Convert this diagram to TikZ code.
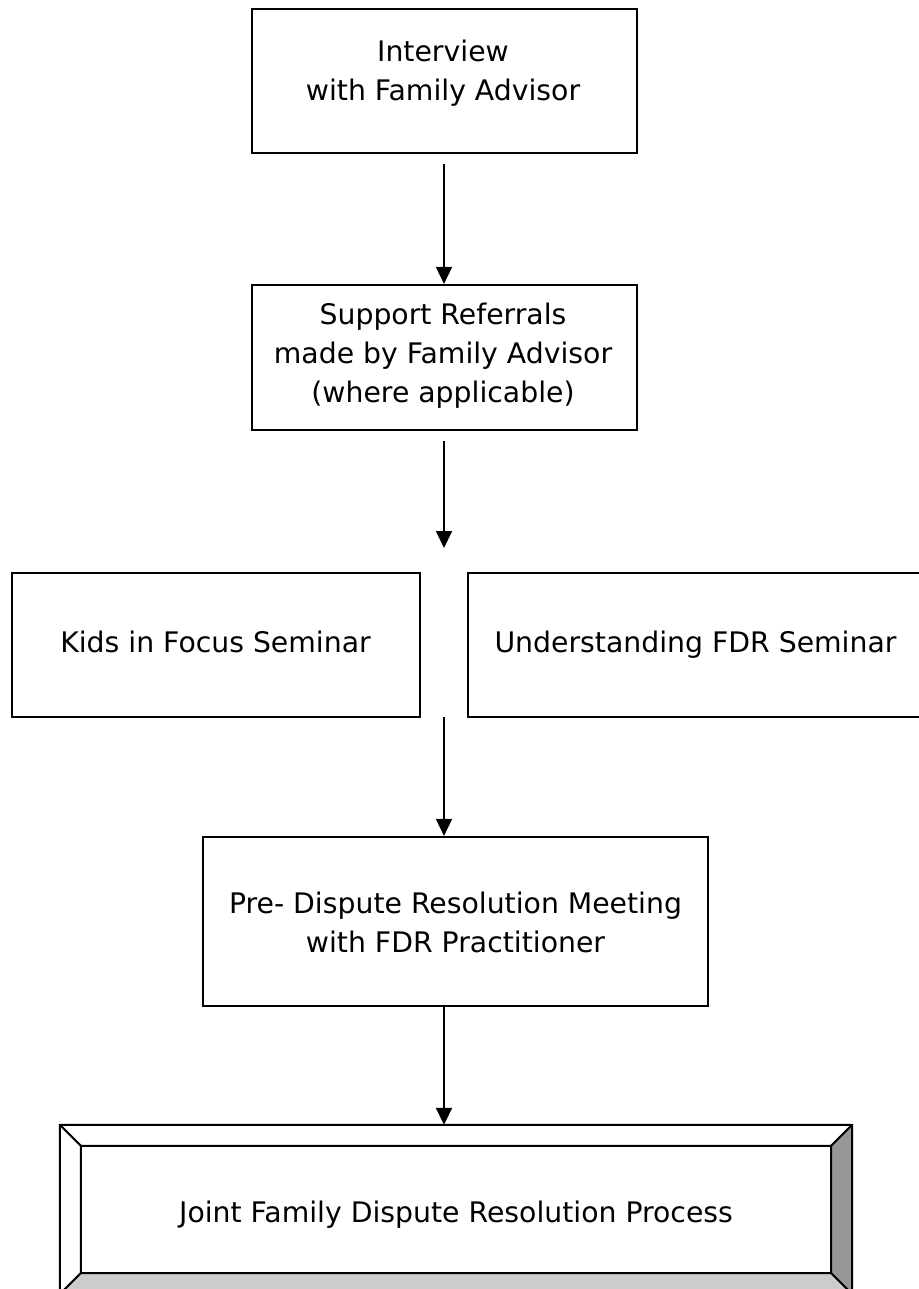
\documentclass[tikz,border=0pt]{standalone}
\usepackage{fontspec}
\setmainfont{DejaVu Sans}
\usetikzlibrary{arrows.meta,calc}
\newcommand{\tlstrut}{\rule[-11pt]{0pt}{39pt}}
\definecolor{bevdark}{HTML}{969696}
\definecolor{bevlight}{HTML}{CCCCCC}
\begin{document}
\begin{tikzpicture}[x=1pt,y=-1pt,
  box/.style={draw=black,line width=2.2pt,rectangle,inner sep=0pt},
  txt/.style={anchor=north,inner sep=0pt,align=center,font=\fontsize{28.3pt}{39pt}\selectfont},
  conn/.style={line width=1.8pt,-{Triangle[length=17pt,width=16pt]}},
  face/.style={draw=black,line width=2pt,line join=round}]
\useasboundingbox (0,0) rectangle (918,1289);
% boxes
\node[box,minimum width=385pt,minimum height=144pt] (b1) at (444.5,81) {};
\node[box,minimum width=385pt,minimum height=145pt] (b2) at (444.5,357.5) {};
\node[box,minimum width=408pt,minimum height=144pt] (kids) at (216,645) {};
\node[box,minimum width=455pt,minimum height=144pt] (under) at (695.5,645) {};
\node[box,minimum width=505pt,minimum height=169pt] (b4) at (455.5,921.5) {};
% bevel box
\node[inner sep=0pt,minimum width=792pt,minimum height=169pt] (joint) at (456,1209.5) {};
\coordinate (jiNW) at ($(joint.north west)+(21,21)$);
\coordinate (jiNE) at ($(joint.north east)+(-21,21)$);
\coordinate (jiSW) at ($(joint.south west)+(21,-21)$);
\coordinate (jiSE) at ($(joint.south east)+(-21,-21)$);
\path[face,fill=white] (joint.north west) -- (joint.north east) -- (jiNE) -- (jiNW) -- cycle;
\path[face,fill=white] (joint.north west) -- (jiNW) -- (jiSW) -- (joint.south west) -- cycle;
\path[face,fill=bevdark] (joint.north east) -- (joint.south east) -- (jiSE) -- (jiNE) -- cycle;
\path[face,fill=bevlight] (joint.south west) -- (jiSW) -- (jiSE) -- (joint.south east) -- cycle;
\draw[line width=2.2pt] (jiNW) rectangle (jiSE);
\draw[line width=2.2pt] (joint.north west) rectangle (joint.south east);
% texts
\node[txt] (t1) at (443,33) {\tlstrut Interview\\\tlstrut with Family Advisor};
\node[txt] (t2) at (443,296) {\tlstrut Support Referrals\\\tlstrut made by Family Advisor\\\tlstrut (where applicable)};
\node[txt] (tk) at (215.5,624) {\tlstrut Kids in Focus Seminar};
\node[txt] (tu) at (695.5,624) {\tlstrut Understanding FDR Seminar};
\node[txt] (t4) at (455.5,885) {\tlstrut Pre- Dispute Resolution Meeting\\\tlstrut with FDR Practitioner};
\node[txt] (tj) at (456,1194) {\tlstrut Joint Family Dispute Resolution Process};
% connectors
\coordinate (a1s) at (444,164);
\coordinate (a2s) at (444,441);
\coordinate (a2e) at (444,548);
\coordinate (a3s) at (444,717);
\coordinate (a4s) at (b4.south -| a3s);
\draw[conn] (a1s) -- (a1s |- b2.north);
\draw[conn] (a2s) -- (a2e);
\draw[conn] (a3s) -- (a3s |- b4.north);
\draw[conn] (a4s) -- (a4s |- joint.north);
\end{tikzpicture}
\end{document}
